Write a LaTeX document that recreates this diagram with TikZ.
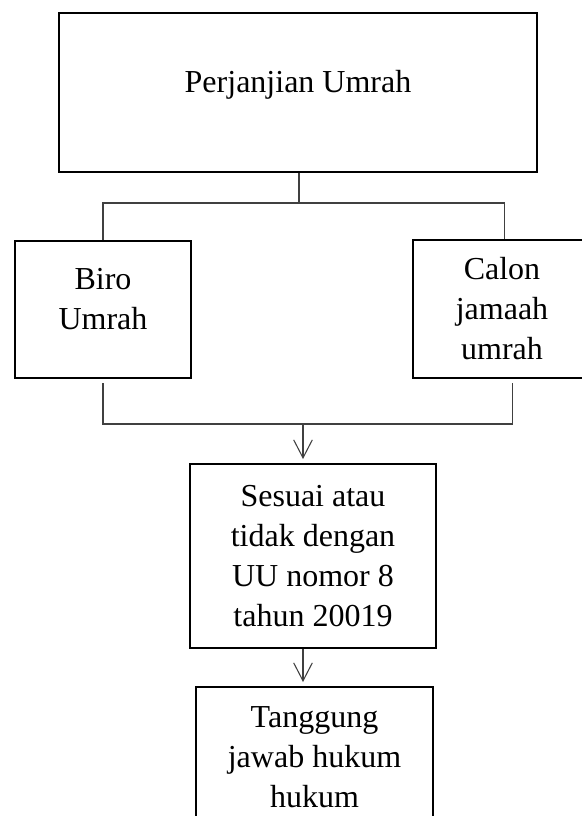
\documentclass[tikz,border=0pt]{standalone}
\usepackage{fontspec}
\setmainfont{Liberation Serif}
\usetikzlibrary{arrows.meta}

\begin{document}
\begin{tikzpicture}[x=0.375pt, y=-0.375pt,
        box/.style={draw, line width=0.75pt, align=center, font=\fontsize{12pt}{15pt}\selectfont},
        link/.style={draw=black!75, line width=0.4pt},
        arrow/.style={link, -{Straight Barb[length=6.75pt, width=7pt]}, shorten >=1.5pt}]

        \def\lowpad{\rule[-8pt]{0pt}{8pt}}

        \useasboundingbox (0,0) rectangle (582,816);
        \clip (0,0) rectangle (582,816);

        \node [box, minimum width=179.25pt, minimum height=59.6pt] (pu) at (298,92.5) {Perjanjian Umrah\lowpad};
        \node [box, minimum width=66pt, minimum height=51.4pt] (biro) at (103,309.5) {Biro\\Umrah\lowpad};
        \node [box, minimum width=66.75pt, minimum height=51.75pt] (calon) at (502,309) {Calon\\jamaah\\umrah};
        \node [box, minimum width=92.25pt, minimum height=69pt] (uu) at (313,556) {Sesuai atau\\tidak dengan\\UU nomor 8\\tahun 20019};
        \node [box, minimum width=88.9pt, minimum height=52.5pt] (tj) at (314.5,757) {Tanggung\\jawab hukum\\hukum};

        \coordinate (split) at (299,203);
        \coordinate (merge) at (303,424);

        \draw [link] (pu.south -| split) -- (split);
        \draw [link] (biro.north) |- (split) -| ([xshift=1.1pt]calon.north);
        \draw [link] ([yshift=-1.5pt]biro.south) |- (merge) -| ([xshift=4.1pt, yshift=-1.5pt]calon.south);

        \draw [arrow] (merge) -- (merge |- uu.north);
        \draw [arrow] (merge |- uu.south) -- (merge |- tj.north);

    \end{tikzpicture}
\end{document}
